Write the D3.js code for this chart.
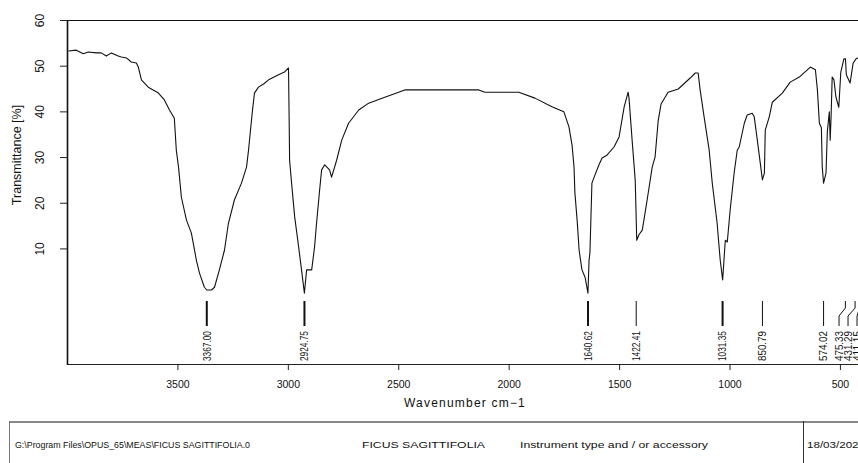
<!DOCTYPE html>
<html><head><meta charset="utf-8">
<script src="https://cdn.jsdelivr.net/npm/d3@7"></script>
<style>
html,body{margin:0;padding:0;background:#fff;overflow:hidden}
svg{display:block}
text{font-family:"Liberation Sans",Arial,sans-serif;fill:#111}
</style></head><body>
<script>
// ---- data ----
const wavenumber = [3994,3958,3926,3904,3867,3845,3822,3799,3768,3754,3731,3709,3686,3677,3663,3632,3586,3559,3536,3514,3505,3495,3482,3459,3437,3414,3400,3378,3367,3346,3332,3310,3287,3269,3242,3210,3187,3178,3160,3151,3133,3110,3087,3042,3015,2997,2994,2992,2983,2969,2951,2938,2925,2915,2892,2879,2870,2856,2847,2833,2811,2802,2779,2756,2725,2679,2634,2561,2498,2471,2362,2257,2135,2108,1954,1881,1804,1750,1727,1713,1704,1700,1690,1681,1668,1654,1641,1636,1632,1623,1609,1591,1577,1555,1523,1500,1477,1459,1455,1441,1427,1420,1410,1395,1373,1350,1337,1323,1310,1278,1232,1178,1155,1142,1133,1115,1092,1078,1056,1042,1031,1019,1010,997,979,965,956,933,920,897,888,874,851,842,838,820,806,761,725,684,634,611,602,593,584,580,574,563,557,548,544,540,535,527,518,505,496,482,475,471,454,440,427,405];
const transmittance = [53.2,53.4,52.6,53.0,52.8,52.8,52.1,52.8,52.1,51.9,51.7,50.8,50.6,49.7,46.9,45.3,44.0,42.5,40.3,38.5,31.5,27.8,21.2,16.2,13.4,7.4,4.6,1.5,0.9,0.9,1.5,5.3,9.6,15.5,20.6,24.3,27.8,31.5,40.3,44.0,45.3,46.0,46.9,48.0,48.6,49.5,38.1,29.3,24.3,16.9,10.3,5.3,0.2,5.3,5.3,10.3,15.5,22.8,27.2,28.3,27.2,25.6,29.3,33.7,37.4,40.3,41.8,43.1,44.2,44.7,44.7,44.7,44.7,44.2,44.2,42.9,41.0,39.9,36.6,32.6,27.8,22.1,16.2,9.6,5.3,3.7,0.2,7.4,9.0,24.3,26.1,28.3,29.8,30.4,32.2,34.4,41.0,44.2,42.9,33.7,25.0,11.8,13.0,14.0,20.6,27.8,30.0,37.9,41.6,44.2,44.9,47.3,48.4,48.4,44.7,38.8,31.5,24.3,15.5,7.4,3.1,11.8,11.4,18.4,26.5,31.5,32.2,37.4,39.2,39.6,38.8,33.7,25.0,26.5,35.9,38.8,42.0,44.0,46.4,47.5,49.7,49.1,44.7,37.4,36.4,27.8,24.3,26.5,35.5,39.9,33.7,38.8,47.5,46.9,43.1,40.9,48.6,51.5,51.5,48.0,46.2,50.6,51.5,52.0];
const peakLabels = ["3367.00","2924.75","1640.62","1422.41","1031.35","850.79","574.02","475.33","431.29","411.15"];
const xTicks = [3500,3000,2500,2000,1500,1000,500];
const yTicks = [10,20,30,40,50,60];
const xTitle = "Wavenumber cm\u22121";
const yTitle = "Transmittance [%]";
const footer = ["G:\\Program Files\\OPUS_65\\MEAS\\FICUS SAGITTIFOLIA.0","FICUS SAGITTIFOLIA","Instrument type and / or accessory","18/03/2021"];

// ---- layout ----
const W = 858, H = 463;
const L = 67, R = 862, T = 20, B = 364;
const svg = d3.select("body").append("svg").attr("width", W).attr("height", H);

const x = d3.scaleLinear().domain([4000, 400]).range([L, R]);
const y = d3.scaleLinear().domain([-15.3, 60]).range([B, T]);

const spectrum = wavenumber.map((w, i) => ({w, t: transmittance[i]}));

// frame
svg.append("line").attr("x1", L).attr("x2", R).attr("y1", T+0.5).attr("y2", T+0.5).attr("stroke", "#111").attr("stroke-width", 1.2);
svg.append("line").attr("x1", L).attr("x2", R).attr("y1", B+0.5).attr("y2", B+0.5).attr("stroke", "#222").attr("stroke-width", 1.2);
svg.append("line").attr("x1", L+0.5).attr("x2", L+0.5).attr("y1", T).attr("y2", B+1).attr("stroke", "#111").attr("stroke-width", 1.6);

// y axis
const ya = svg.append("g").attr("transform", `translate(${L},0)`)
  .call(d3.axisLeft(y).tickValues(yTicks).tickSize(7).tickPadding(0));
ya.select(".domain").remove();
ya.selectAll(".tick line").attr("stroke", "#222");
ya.selectAll(".tick text")
  .attr("x", null).attr("dy", null)
  .attr("text-anchor", "middle")
  .attr("transform", "translate(-23,0) rotate(-90)")
  .style("font-size", "12px").style("font-family", "Liberation Sans, Arial, sans-serif").attr("fill", "#222");

// x axis
const xa = svg.append("g").attr("transform", `translate(0,${B})`)
  .call(d3.axisBottom(x).tickValues(xTicks).tickFormat(d3.format("d")).tickSize(6).tickPadding(0));
xa.select(".domain").remove();
xa.selectAll(".tick line").attr("stroke", "#222");
xa.selectAll(".tick text").attr("dy", null).attr("y", 24)
  .style("font-size", "10.5px").style("font-family", "Liberation Sans, Arial, sans-serif").attr("fill", "#222");

// axis titles
svg.append("text").attr("x", 465).attr("y", 407).attr("text-anchor", "middle")
  .style("font-size", "12px").style("letter-spacing", "1.2px").text(xTitle);
svg.append("text").attr("transform", "translate(21,155) rotate(-90)").attr("text-anchor", "middle")
  .style("font-size", "12.5px").text(yTitle);

// spectrum
const line = d3.line().x(d => x(d.w)).y(d => y(d.t));
svg.append("clipPath").attr("id", "pc").append("rect")
  .attr("x", L+1).attr("y", T).attr("width", R-L).attr("height", B-T);
svg.append("path").datum(spectrum).attr("clip-path", "url(#pc)")
  .attr("d", line).attr("fill", "none").attr("stroke", "#111").attr("stroke-width", 1.1)
  .attr("stroke-linejoin", "round");

// peak markers
const interp = w => {
  const i = d3.bisector(d => -d.w).left(spectrum, -w);
  if (i <= 0) return spectrum[0].t;
  if (i >= spectrum.length) return spectrum[spectrum.length-1].t;
  const a = spectrum[i-1], b = spectrum[i];
  return a.t + (b.t - a.t) * (a.w - w) / (a.w - b.w);
};
const peaks = peakLabels.map(s => ({label: s, w: +s}));
peaks.forEach(p => { p.px = x(p.w); p.lx = p.px; });
// crowded labels at the low end are pushed apart to the left
const gap = 9;
peaks[peaks.length - 1].lx = peaks[peaks.length - 1].px - 2.5;
for (let i = peaks.length - 2; i >= 0; i--) {
  const p = peaks[i], n = peaks[i+1];
  p.lx = Math.min(p.px, n.lx - gap);
}
const pk = svg.append("g");
peaks.forEach(p => {
  const sw = interp(p.w) < 5 ? 2 : 1;
  const d = Math.abs(p.lx - p.px) < 0.5
    ? `M${p.px},301V326`
    : `M${p.px},301V308L${p.lx},316V326`;
  pk.append("path").attr("d", d).attr("fill", "none").attr("stroke", "#111").attr("stroke-width", sw);
  pk.append("text").attr("transform", `translate(${p.lx + 3.8},361) rotate(-90)`)
    .attr("text-anchor", "start")
    .attr("textLength", 30).attr("lengthAdjust", "spacingAndGlyphs")
    .style("font-size", "10.5px").attr("fill", "#222").text(p.label);
});

// footer box
svg.append("line").attr("x1", 9).attr("x2", W).attr("y1", 422).attr("y2", 422).attr("stroke", "#888").attr("stroke-width", 2);
svg.append("line").attr("x1", 9.5).attr("x2", 9.5).attr("y1", 421).attr("y2", H).attr("stroke", "#777").attr("stroke-width", 1);
svg.append("line").attr("x1", 803.5).attr("x2", 803.5).attr("y1", 421).attr("y2", H).attr("stroke", "#333").attr("stroke-width", 1);
const fx = [15, 362, 520, 807];
const fl = [235, 123, 188, 58];
footer.forEach((s, i) => {
  svg.append("text").attr("x", fx[i]).attr("y", 448)
    .attr("textLength", fl[i]).attr("lengthAdjust", "spacingAndGlyphs")
    .style("font-size", "9.5px").attr("fill", "#222").text(s);
});
</script>
</body></html>
